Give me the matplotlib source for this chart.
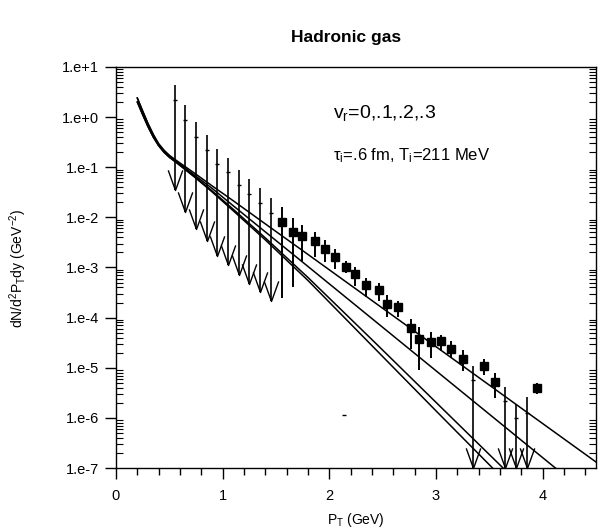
import numpy as np
import matplotlib
matplotlib.use("Agg")
import matplotlib.pyplot as plt
from matplotlib.path import Path
from matplotlib.ticker import LogLocator, MultipleLocator, FixedLocator, NullFormatter

plt.rcParams['font.family'] = ['Liberation Sans', 'DejaVu Sans']
plt.rcParams['mathtext.default'] = 'regular'

# model curves (log10 of dN/d2PTdy), v_r = 0, .1, .2, .3
pt_curve = [0.2, 0.25, 0.3, 0.35, 0.4, 0.45, 0.5, 0.55, 0.65, 0.75, 0.9, 1.1, 1.4, 1.8, 2.4, 3.0, 3.6, 4.2, 4.5]
log_a = [0.38, 0.12, -0.13, -0.35, -0.53, -0.66, -0.76, -0.84, -0.99, -1.14, -1.37, -1.67, -2.13, -2.74, -3.66, -4.58, -5.50, -6.42, -6.88]
log_b = [0.38, 0.12, -0.13, -0.35, -0.54, -0.67, -0.78, -0.86, -1.02, -1.18, -1.42, -1.77, -2.29, -2.98, -4.02, -5.06, -6.10, -7.14, -7.66]
log_c = [0.30, 0.05, -0.19, -0.40, -0.57, -0.70, -0.80, -0.88, -1.04, -1.21, -1.47, -1.84, -2.41, -3.20, -4.44, -5.69, -6.94, -8.20, -8.80]
log_d = [0.30, 0.05, -0.19, -0.40, -0.57, -0.70, -0.80, -0.88, -1.05, -1.22, -1.49, -1.87, -2.45, -3.26, -4.56, -5.86, -7.15, -8.40, -9.10]

# measured points
pt_data = [1.56, 1.66, 1.74, 1.87, 1.96, 2.05, 2.16, 2.24, 2.34, 2.47, 2.54, 2.64, 2.77, 2.84, 2.95, 3.05, 3.14, 3.25, 3.45, 3.55, 3.95]
y_data = [7.9e-3, 5.0e-3, 4.2e-3, 3.3e-3, 2.3e-3, 1.6e-3, 1.0e-3, 7.3e-4, 4.4e-4, 3.5e-4, 1.9e-4, 1.6e-4,
          6.1e-5, 3.7e-5, 3.3e-5, 3.4e-5, 2.4e-5, 1.5e-5, 1.1e-5, 5.1e-6, 3.9e-6]
y_hi = [1.63e-2, 9.8e-3, 7.2e-3, 5.1e-3, 3.5e-3, 2.36e-3, 1.32e-3, 1.0e-3, 6.2e-4, 4.8e-4, 2.77e-4, 2.16e-4,
        9.6e-5, 6.5e-5, 5.1e-5, 4.6e-5, 3.35e-5, 2.24e-5, 1.49e-5, 7.7e-6, 4.9e-6]
y_lo = [2.5e-4, 4.0e-4, 1.36e-3, 1.64e-3, 1.28e-3, 9.3e-4, 7.6e-4, 4.3e-4, 2.6e-4, 2.16e-4, 1.04e-4, 1.04e-4,
        2.4e-5, 9.0e-6, 1.6e-5, 2.17e-5, 1.6e-5, 8.6e-6, 7.1e-6, 2.44e-6, 2.97e-6]

# upper limits (log10 values)
pt_lim = [0.55, 0.65, 0.75, 0.85, 0.95, 1.05, 1.15, 1.25, 1.35, 1.45, 3.35, 3.65, 3.75, 3.85]
lim_top = [0.641, 0.242, -0.104, -0.357, -0.643, -0.810, -1.056, -1.236, -1.410, -1.621, -4.968, -5.393, -5.733, -5.593]
lim_mid = [0.341, -0.058, -0.403, -0.657, -0.936, -1.102, -1.355, -1.535, -1.709, -1.920, -5.248, -5.661, -6.012, -5.900]
lim_tip = [-1.455, -1.888, -2.240, -2.467, -2.772, -2.952, -3.152, -3.331, -3.497, -3.677, -7.0, -7.0, -7.0, -7.0]

fig = plt.figure(figsize=(6.15, 5.32), dpi=100)
ax = fig.add_axes([0.1886, 0.1203, 0.7805, 0.7538])
ax.set_yscale('log')

for lg in (log_a, log_b, log_c, log_d):
    ax.plot(pt_curve, 10 ** np.array(lg), color='black', lw=1.1)

# data with error bars
ax.vlines(pt_data, y_lo, y_hi, color='black', lw=1.4)
ax.plot(pt_data, y_data, 's', color='black', ms=5.5)

# upper limit arrows
vee = Path([(-0.36, 1.0), (0.0, 0.0), (0.36, 1.0)], [Path.MOVETO, Path.LINETO, Path.LINETO])
top = 10 ** np.array(lim_top)
mid = 10 ** np.array(lim_mid)
tip = 10 ** np.array(lim_tip)
ax.vlines(pt_lim, tip, top, color='black', lw=1.2)
ax.plot(pt_lim, tip, linestyle='none', marker=vee, ms=29, mfc='none', mec='black', mew=1.0, clip_on=False)
ax.plot(pt_lim, mid, linestyle='none', marker='_', ms=3, color='black', mew=1.0)

# stray mark
ax.plot([2.14], [1.13e-6], linestyle='none', marker='_', ms=3, color='black', mew=1.0)

ax.set_xlim(0, 4.5)
ax.set_ylim(1e-7, 1e1)

ax.xaxis.set_minor_locator(MultipleLocator(0.2))
ax.set_xticks([0, 1, 2, 3, 4])
ax.set_xticklabels(['0', '1', '2', '3', '4'])
ax.yaxis.set_major_locator(FixedLocator([10.0 ** k for k in range(-7, 2)]))
ax.yaxis.set_minor_locator(LogLocator(base=10, subs=np.arange(2, 10), numticks=20))
ax.yaxis.set_minor_formatter(NullFormatter())
ax.set_yticklabels(['1.e-7', '1.e-6', '1.e-5', '1.e-4', '1.e-3', '1.e-2', '1.e-1', '1.e+0', '1.e+1'])

ax.tick_params(axis='x', which='major', direction='out', length=8, width=1, labelsize=10.5, pad=7)
ax.tick_params(axis='x', which='minor', direction='out', length=5, width=1)
ax.tick_params(axis='y', which='major', direction='out', length=8, width=1, labelsize=10.5, pad=4)
ax.tick_params(axis='y', which='minor', direction='in', length=5, width=0.8, right=True)
for s in ax.spines.values():
    s.set_linewidth(1.0)

ax.text(0.452, 0.885, r'v$_r$=0,.1,.2,.3', transform=ax.transAxes, fontsize=14, va='center')
ax.text(0.452, 0.778, r'τ$_i$=.6 fm, T$_i$=211 MeV', transform=ax.transAxes, fontsize=12, va='center')

fig.text(0.5626, 0.930, 'Hadronic gas', ha='center', va='center', fontsize=12.5, fontweight='bold')
fig.text(0.579, 0.0226, r'P$_T$ (GeV)', ha='center', va='center', fontsize=10)
fig.text(0.03, 0.496, r'dN/d$^2$P$_T$dy (GeV$^{-2}$)', ha='center', va='center', rotation=90, fontsize=10)

fig.savefig('out.png', dpi=100)
